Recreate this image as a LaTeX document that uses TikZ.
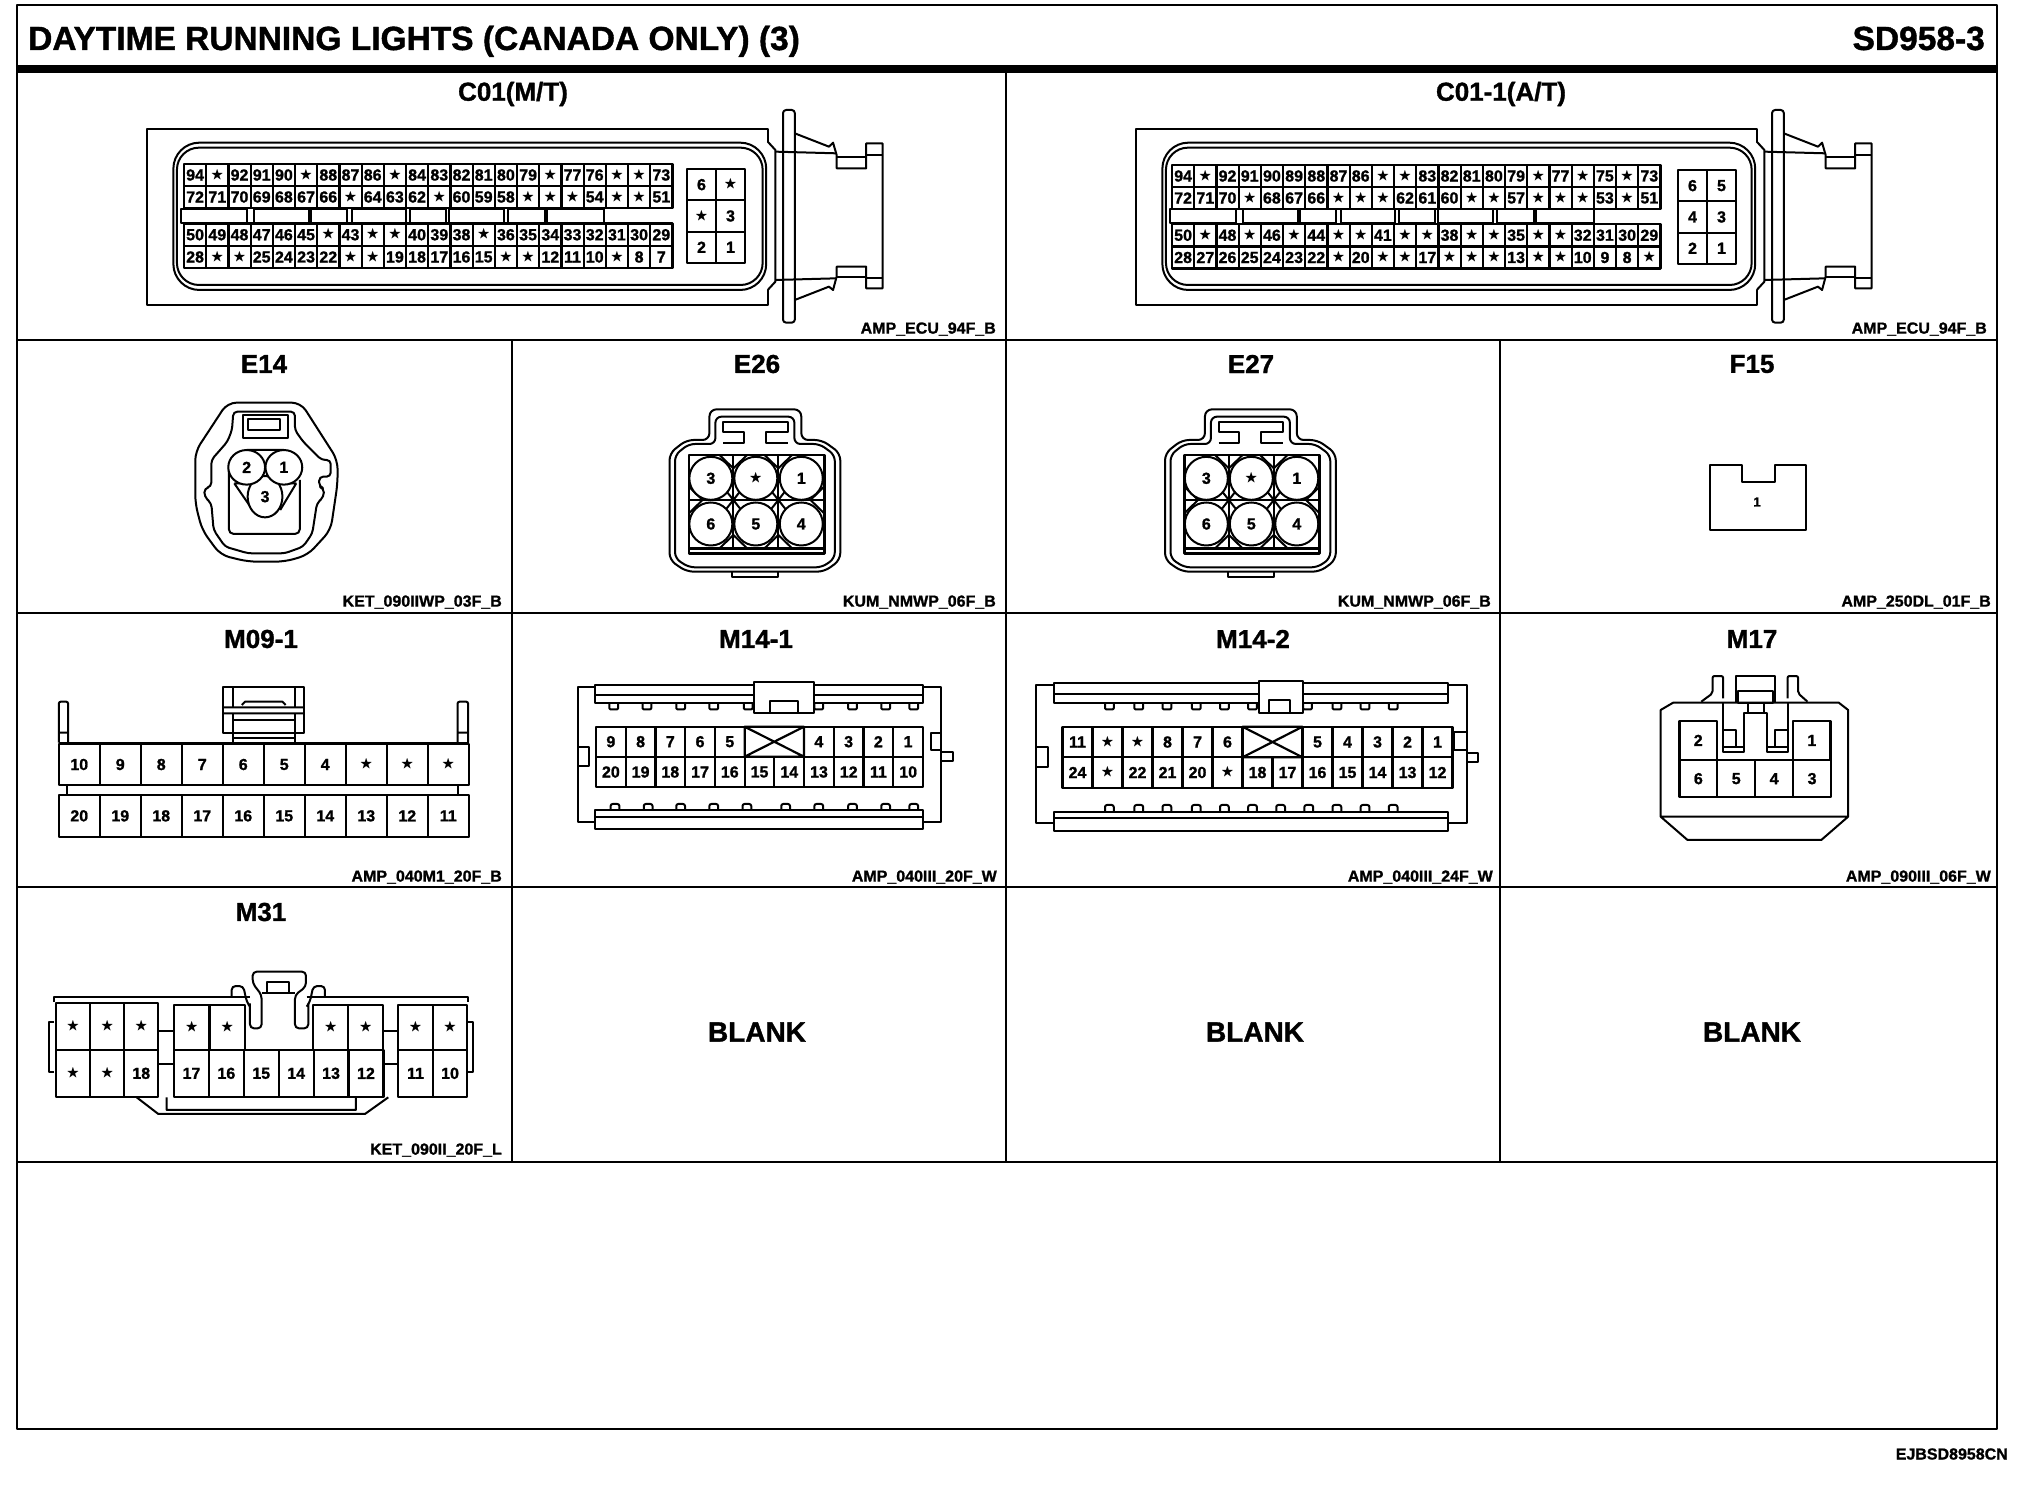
\documentclass[tikz,border=0pt]{standalone}
\usepackage{amssymb}
\usepackage{fontspec}
\setmainfont[BoldFeatures={FakeBold=1.2}]{Liberation Sans}
\usetikzlibrary{shapes.geometric}
\newcommand{\ps}{{\fontsize{13}{13}\selectfont$\bigstar$}}
\newcommand{\pinrow}[6]{\foreach \lab [count=\idx from 0] in {#6}
    \node[pin, minimum width=#4pt, minimum height=#5pt] (#1-\idx) at ({#2+(\idx+0.5)*#4},{#3+#5/2}) {\lab};}
\begin{document}
\begin{tikzpicture} [x=1pt, y=-1pt, line join=round,
    rule/.style={draw, line width=2.6pt},
    body/.style={draw, line width=2pt},
    pin/.style={draw, rectangle, line width=2.2pt, inner sep=0pt, font=\fontsize{16}{16}\selectfont\bfseries},
    pinc/.style={draw, ellipse, fill=white, line width=2pt, inner sep=0pt, font=\fontsize{16}{16}\selectfont\bfseries},
    conname/.style={font=\fontsize{26}{26}\selectfont\bfseries},
    partno/.style={anchor=east, inner sep=0pt, font=\fontsize{16}{16}\selectfont\bfseries},
    blank/.style={font=\fontsize{28}{28}\selectfont\bfseries}]
        \useasboundingbox (0,0) rectangle (2020,1504);

        % Frame
        \draw[rule] (17,5) rectangle (1997,1429);
        \draw[line width=7pt] (17,69) -- (1997,69);
        \draw[rule] (17,340) -- (1997,340) (17,613) -- (1997,613) (17,887) -- (1997,887) (17,1162) -- (1997,1162);
        \draw[rule] (512,340) -- (512,1162) (1006,69) -- (1006,1162) (1500,340) -- (1500,1162);

        % Titles
        \node[anchor=base west, inner sep=0pt, font=\fontsize{33.5}{33.5}\selectfont\bfseries] (title) at (28,50) {DAYTIME RUNNING LIGHTS (CANADA ONLY) (3)};
        \node[anchor=base east, inner sep=0pt, font=\fontsize{33.5}{33.5}\selectfont\bfseries] (sheet) at (1985,50) {SD958-3};
        \node[anchor=east, inner sep=0pt, font=\fontsize{16}{16}\selectfont\bfseries] (code) at (2008,1454) {EJBSD8958CN};
        \node[conname] (c01) at (513,94) {C01(M/T)};
        \node[conname] (c011) at (1501,94) {C01-1(A/T)};
        \node[conname] (e14) at (264,364) {E14};
        \node[conname] (e26) at (757,364) {E26};
        \node[conname] (e27) at (1251,364) {E27};
        \node[conname] (f15) at (1752,364) {F15};
        \node[conname] (m091) at (261,639) {M09-1};
        \node[conname] (m141) at (756,639) {M14-1};
        \node[conname] (m142) at (1253,639) {M14-2};
        \node[conname] (m17) at (1752,639) {M17};
        \node[conname] (m31) at (261,912) {M31};
        \node[blank] (blank1) at (757,1032) {BLANK};
        \node[blank] (blank2) at (1255,1032) {BLANK};
        \node[blank] (blank3) at (1752,1032) {BLANK};

        % Part numbers
        \node[partno] (p1) at (996,329) {AMP\_ECU\_94F\_B};
        \node[partno] (p2) at (1987,329) {AMP\_ECU\_94F\_B};
        \node[partno] (p3) at (502,602) {KET\_090IIWP\_03F\_B};
        \node[partno] (p4) at (996,602) {KUM\_NMWP\_06F\_B};
        \node[partno] (p5) at (1491,602) {KUM\_NMWP\_06F\_B};
        \node[partno] (p6) at (1991,602) {AMP\_250DL\_01F\_B};
        \node[partno] (p7) at (502,877) {AMP\_040M1\_20F\_B};
        \node[partno] (p8) at (997,877) {AMP\_040III\_20F\_W};
        \node[partno] (p9) at (1493,877) {AMP\_040III\_24F\_W};
        \node[partno] (p10) at (1991,877) {AMP\_090III\_06F\_W};
        \node[partno] (p11) at (502,1150) {KET\_090II\_20F\_L};

        % ECU housings
        \foreach \bx in {0,989} {
        \begin{scope}[shift={(130+\bx,100)}, x=0.5102pt, y=-0.3333pt]
            \draw[body] (1250,125) -- (1250,88) -- (33,88) -- (33,615) -- (1250,615) -- (1250,570);
            \draw[body] (1250,125) -- (1265,150) -- (1265,545) -- (1250,570);
            \draw[body, rounded corners=26pt] (85,128) rectangle (1247,570);
            \draw[body, rounded corners=22pt] (92,143) rectangle (1240,555);
            \draw[body, rounded corners=3pt] (1280,30) rectangle (1303,668);
            \draw[body] (1303,100) -- (1370,140) -- (1378,128) -- (1385,165) -- (1385,205) -- (1443,205) -- (1443,130) -- (1475,130) -- (1475,565) -- (1443,565) -- (1443,500) -- (1385,500) -- (1385,530) -- (1378,570) -- (1370,560) -- (1303,600);
            \draw[body] (1265,155) -- (1385,160) (1265,540) -- (1385,535);
            \draw[body] (1385,170) -- (1443,170) (1443,165) -- (1475,165) (1385,530) -- (1443,530) (1443,535) -- (1475,535);
            \foreach \sa/\sb in {100/230,243/350,355/425,435/540,548/620,625/733,741/813,818/930}
                \draw[body] (\sa,328) rectangle (\sb,370);
        \end{scope}
        }

        % C01 pins
        \pinrow{ca}{184}{164}{22.2}{22}{94,\ps,92,91,90,\ps,88,87,86,\ps,84,83,82,81,80,79,\ps,77,76,\ps,\ps,73}
        \pinrow{cb}{184}{186}{22.2}{22}{72,71,70,69,68,67,66,\ps,64,63,62,\ps,60,59,58,\ps,\ps,\ps,54,\ps,\ps,51}
        \pinrow{cc}{184}{223.5}{22.2}{22.5}{50,49,48,47,46,45,\ps,43,\ps,\ps,40,39,38,\ps,36,35,34,33,32,31,30,29}
        \pinrow{cd}{184}{246}{22.2}{22}{28,\ps,\ps,25,24,23,22,\ps,\ps,19,18,17,16,15,\ps,\ps,12,11,10,\ps,8,7}
        \pinrow{ce}{687}{169}{29}{31.3}{6,\ps}
        \pinrow{cf}{687}{200.3}{29}{31.3}{\ps,3}
        \pinrow{cg}{687}{231.6}{29}{31.3}{2,1}

        % C01-1 pins
        \pinrow{da}{1172}{165}{22.2}{22}{94,\ps,92,91,90,89,88,87,86,\ps,\ps,83,82,81,80,79,\ps,77,\ps,75,\ps,73}
        \pinrow{db}{1172}{187}{22.2}{22}{72,71,70,\ps,68,67,66,\ps,\ps,\ps,62,61,60,\ps,\ps,57,\ps,\ps,\ps,53,\ps,51}
        \pinrow{dc}{1172}{224}{22.2}{22.5}{50,\ps,48,\ps,46,\ps,44,\ps,\ps,41,\ps,\ps,38,\ps,\ps,35,\ps,\ps,32,31,30,29}
        \pinrow{dd}{1172}{246.5}{22.2}{22}{28,27,26,25,24,23,22,\ps,20,\ps,\ps,17,\ps,\ps,\ps,13,\ps,\ps,10,9,8,\ps}
        \pinrow{de}{1678}{170}{29}{31.3}{6,5}
        \pinrow{df}{1678}{201.3}{29}{31.3}{4,3}
        \pinrow{dg}{1678}{232.6}{29}{31.3}{2,1}

        % E14
        \begin{scope}[shift={(170,380)}, x=0.4591pt, y=-0.3333pt]
            \draw[body, rounded corners=9pt] (125,68) -- (285,68) -- (365,240) -- (365,310) -- (350,450) -- (300,525) -- (250,545) -- (170,545) -- (110,525) -- (70,450) -- (55,370) -- (55,215) -- cycle;
            \draw[body, rounded corners=4pt] (138,95) -- (272,95) -- (272,150) -- (290,185) -- (330,240) -- (350,240) -- (350,290) -- (325,290) -- (325,320) -- (335,325) -- (335,350) -- (320,370) -- (310,460) -- (290,500) -- (250,520) -- (170,520) -- (120,500) -- (95,450) -- (90,370) -- (75,350) -- (75,325) -- (90,320) -- (90,240) -- (125,185) -- (135,150) -- cycle;
            \draw[body] (158,105) rectangle (258,175) (170,118) rectangle (240,150);
            \draw[body, rounded corners=5pt] (128,260) -- (128,462) -- (283,462) -- (283,300);
            \draw[body] (167,210) -- (248,210) (140,310) -- (180,390) (275,310) -- (240,390) (140,310) -- (275,310);
            \node[pinc, minimum width=34.8pt, minimum height=41.4pt] (e14-3) at (207,350) {3};
            \node[pinc, minimum width=36.8pt, minimum height=34.6pt] (e14-2) at (167,262) {2};
            \node[pinc, minimum width=36.8pt, minimum height=34.6pt] (e14-1) at (248,262) {1};
        \end{scope}

        % E26 and E27
        \foreach \bx/\bn in {0/ea,495.5/eb} {
        \begin{scope}[shift={(170+\bx,380)}, x=0.4591pt, y=-0.3333pt]
            \draw[body, rounded corners=7pt] (1175,180) -- (1175,88) -- (1375,88) -- (1375,180) -- (1420,180) -- (1460,220) -- (1460,540) -- (1425,575) -- (1125,575) -- (1088,540) -- (1088,220) -- (1125,180) -- cycle;
            \draw[body, rounded corners=6pt] (1188,192) -- (1188,110) -- (1360,110) -- (1360,192) -- (1415,192) -- (1448,225) -- (1448,535) -- (1420,562) -- (1130,562) -- (1100,535) -- (1100,225) -- (1130,192) -- cycle;
            \draw[body] (1205,190) -- (1250,190) -- (1250,155) -- (1205,155) -- (1205,125) -- (1345,125) -- (1345,155) -- (1298,155) -- (1298,190) -- (1345,190);
            \draw[body] (1225,575) -- (1225,590) -- (1325,590) -- (1325,575);
            \draw[body, line width=2.6pt] (1130,225) rectangle (1425,520) (1130,505) -- (1425,505);
            \draw[body] (1227,225) -- (1227,505) (1325,225) -- (1325,505) (1130,360) -- (1425,360);
            \foreach \gx in {1227,1325}
                \draw[body] (\gx-40,290) -- (\gx+40,430) (\gx+40,290) -- (\gx-40,430) (\gx-30,225) -- (\gx,265) -- (\gx+30,225) (\gx-30,505) -- (\gx,465) -- (\gx+30,505);
            \draw[body] (1130,320) -- (1160,360) -- (1130,400) (1425,320) -- (1395,360) -- (1425,400);
            \node[pinc, minimum size=43pt] (\bn-3) at (1178,295) {3};
            \node[pinc, minimum size=43pt] (\bn-s) at (1276,295) {\ps};
            \node[pinc, minimum size=43pt] (\bn-1) at (1375,295) {1};
            \node[pinc, minimum size=43pt] (\bn-6) at (1178,432) {6};
            \node[pinc, minimum size=43pt] (\bn-5) at (1276,432) {5};
            \node[pinc, minimum size=43pt] (\bn-4) at (1375,432) {4};
        \end{scope}
        }

        % F15
        \draw[body] (1710,465) -- (1742,465) -- (1742,482) -- (1775,482) -- (1775,465) -- (1806,465) -- (1806,530) -- (1710,530) -- cycle;
        \node[font=\fontsize{13}{13}\selectfont\bfseries] (f15-1) at (1757,502) {1};

        % M09-1
        \begin{scope}[shift={(20,670)}, x=0.625pt, y=-0.3333pt]
            \draw[body, rounded corners=2pt] (62,218) -- (62,95) -- (77,95) -- (77,218) (62,188) -- (77,188);
            \draw[body, rounded corners=2pt] (700,218) -- (700,95) -- (717,95) -- (717,218) (700,188) -- (717,188);
            \draw[body] (325,50) rectangle (455,190) (340,50) -- (340,112) (440,50) -- (440,112);
            \draw[body] (325,112) -- (455,112) (325,130) -- (455,130) (355,105) -- (360,95) -- (420,95) -- (425,105);
            \draw[body] (340,130) -- (340,215) (440,130) -- (440,215) (340,150) -- (440,150) (340,205) -- (440,205);
            \draw[body] (75,345) -- (75,375) (700,345) -- (700,375) (62,218) -- (718,218);
        \end{scope}
        \pinrow{ma}{58.75}{744}{41}{41}{10,9,8,7,6,5,4,\ps,\ps,\ps}
        \pinrow{mb}{58.75}{795}{41}{41.7}{20,19,18,17,16,15,14,13,12,11}

        % M14-1
        \begin{scope}[shift={(20,670)}, x=0.625pt, y=-0.3333pt]
            \draw[body] (920,50) -- (893,50) -- (893,455) -- (920,455) (1445,50) -- (1473,50) -- (1473,455) -- (1445,455);
            \draw[body] (1175,45) -- (920,45) -- (920,98) -- (1175,98) (920,75) -- (1175,75);
            \draw[body] (1270,45) -- (1445,45) -- (1445,98) -- (1270,98) (1270,75) -- (1445,75);
            \draw[body] (1175,35) rectangle (1270,128) (1200,128) -- (1200,92) -- (1245,92) -- (1245,128);
            \draw[body] (920,420) rectangle (1445,478) (920,440) -- (1445,440);
            \draw[body] (893,230) -- (910,230) -- (910,288) -- (893,288);
            \draw[body] (1473,190) -- (1458,190) -- (1458,240) -- (1473,240) (1473,245) -- (1492,245) -- (1492,272) -- (1473,272);
            \foreach \bp in {950,1003,1057,1110,1165,1278,1332,1385,1430}
                \draw[body, rounded corners=1pt] (\bp-7,98) -- (\bp-7,118) -- (\bp+7,118) -- (\bp+7,98);
            \foreach \bp in {952,1005,1057,1110,1163,1225,1278,1332,1385,1430}
                \draw[body, rounded corners=2pt] (\bp-7,420) -- (\bp-7,402) -- (\bp+7,402) -- (\bp+7,420);
        \end{scope}
        \pinrow{na}{596}{726.7}{29.73}{30}{9,8,7,6,5}
        \draw[pin] (744.6,726.7) rectangle (804,756.7) (744.6,726.7) -- (804,756.7) (744.6,756.7) -- (804,726.7);
        \pinrow{nb}{804}{726.7}{29.73}{30}{4,3,2,1}
        \pinrow{nc}{596}{756.7}{29.73}{30.6}{20,19,18,17,16,15,14,13,12,11,10}

        % M14-2
        \begin{scope}[shift={(1020,670)}, x=0.625pt, y=-0.3333pt]
            \draw[body] (55,45) -- (25,45) -- (25,458) -- (55,458) (685,45) -- (715,45) -- (715,458) -- (685,458);
            \draw[body] (380,40) -- (55,40) -- (55,100) -- (380,100) (55,72) -- (380,72);
            \draw[body] (455,40) -- (685,40) -- (685,100) -- (455,100) (455,72) -- (685,72);
            \draw[body] (382,33) rectangle (452,130) (398,128) -- (398,90) -- (432,90) -- (432,128);
            \draw[body] (55,425) rectangle (685,483) (55,445) -- (685,445);
            \draw[body] (25,230) -- (45,230) -- (45,290) -- (25,290);
            \draw[body] (715,185) -- (695,185) -- (695,240) -- (715,240) (715,248) -- (733,248) -- (733,275) -- (715,275);
            \foreach \bp in {143,190,235,282,327,372,460,507,552,597}
                \draw[body, rounded corners=1pt] (\bp-7,100) -- (\bp-7,118) -- (\bp+7,118) -- (\bp+7,100);
            \foreach \bp in {143,190,235,282,327,372,417,462,507,552,597}
                \draw[body, rounded corners=2pt] (\bp-7,425) -- (\bp-7,405) -- (\bp+7,405) -- (\bp+7,425);
        \end{scope}
        \pinrow{oa}{1062.5}{726.7}{30}{30.6}{11,\ps,\ps,8,7,6}
        \draw[pin] (1242.5,726.7) rectangle (1302.5,757.3) (1242.5,726.7) -- (1302.5,757.3) (1242.5,757.3) -- (1302.5,726.7);
        \pinrow{ob}{1302.5}{726.7}{30}{30.6}{5,4,3,2,1}
        \pinrow{oc}{1062.5}{757.3}{30}{30.4}{24,\ps,22,21,20,\ps,18,17,16,15,14,13,12}

        % M17
        \begin{scope}[shift={(1020,670)}, x=0.625pt, y=-0.3333pt]
            \draw[body] (1045,98) -- (1310,98) -- (1325,120) -- (1325,440) -- (1282,510) -- (1068,510) -- (1025,440) -- (1025,120) -- cycle (1025,440) -- (1325,440);
            \draw[body] (1125,98) -- (1125,245) -- (1158,245) -- (1158,130) -- (1195,130) -- (1195,245) -- (1228,245) -- (1228,98);
            \draw[body] (1125,180) -- (1145,180) -- (1145,230) (1125,230) -- (1158,230) (1228,180) -- (1208,180) -- (1208,230) (1195,230) -- (1228,230);
            \draw[body] (1145,98) -- (1145,18) -- (1208,18) -- (1208,98) (1148,62) rectangle (1205,100) (1165,100) -- (1165,125) (1190,100) -- (1190,125);
            \draw[body, rounded corners=2pt] (1125,85) -- (1125,18) -- (1108,18) -- (1108,70) -- (1090,95);
            \draw[body, rounded corners=2pt] (1228,85) -- (1228,18) -- (1245,18) -- (1245,70) -- (1260,95);
        \end{scope}
        \node[pin, minimum width=37.5pt, minimum height=39.3pt] (q-2) at (1698.2,740.4) {2};
        \node[pin, minimum width=37.5pt, minimum height=39.3pt] (q-1) at (1811.8,740.4) {1};
        \pinrow{qb}{1679.4}{760}{37.9}{37.3}{6,5,4,3}

        % M31
        \begin{scope}[shift={(30,960)}, x=0.3333pt, y=-0.3333pt]
            \draw[body] (72,125) -- (72,110) -- (660,110) (830,110) -- (1315,110) -- (1315,125);
            \draw[body] (72,185) -- (58,185) -- (58,335) -- (72,335) (1315,185) -- (1330,185) -- (1330,335) -- (1315,335);
            \draw[body] (385,213) -- (432,213) (385,313) -- (432,313) (1060,213) -- (1105,213) (1060,313) -- (1105,313);
            \draw[body] (320,412) -- (385,462) -- (1005,462) -- (1075,412) (410,412) -- (410,450) -- (978,450) -- (978,412);
            \draw[body, rounded corners=4pt] (660,130) -- (660,205) -- (695,205) -- (695,105) -- (668,70) -- (668,35) -- (828,35) -- (828,80) -- (795,105) -- (795,205) -- (835,205) -- (835,130);
            \draw[body] (712,100) -- (712,65) -- (778,65) -- (778,100) (695,100) -- (795,100);
            \draw[body, rounded corners=4pt] (605,110) -- (605,78) -- (640,78) -- (650,125) -- (660,140) (885,110) -- (885,78) -- (850,78) -- (840,125) -- (830,140);
        \end{scope}
        \pinrow{ra}{56}{1003.3}{34.1}{46.7}{\ps,\ps,\ps}
        \pinrow{rb}{56}{1050}{34.1}{46.7}{\ps,\ps,18}
        \pinrow{rc}{174}{1005}{35.5}{45}{\ps,\ps}
        \pinrow{rd}{313.3}{1005}{35}{45}{\ps,\ps}
        \pinrow{re}{174}{1050}{34.9}{46.7}{17,16,15,14,13,12}
        \pinrow{rf}{398.3}{1005}{34.5}{45}{\ps,\ps}
        \pinrow{rg}{398.3}{1050}{34.5}{46.7}{11,10}
    \end{tikzpicture}
\end{document}
